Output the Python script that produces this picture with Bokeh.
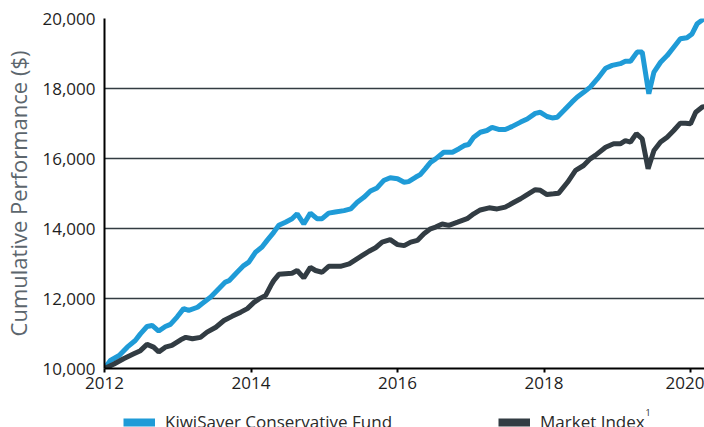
from bokeh.plotting import figure
from bokeh.layouts import column
from bokeh.models import (Range1d, FixedTicker, NumeralTickFormatter, Legend, LegendItem, Label)
from bokeh.embed import file_html
from bokeh.resources import INLINE

# ---- data ----
fund_years = [2012.00, 2012.08, 2012.20, 2012.31, 2012.42, 2012.49, 2012.58, 2012.65, 2012.74, 2012.83,
              2012.90, 2012.99, 2013.08, 2013.15, 2013.27, 2013.33, 2013.45, 2013.56, 2013.65, 2013.70,
              2013.81, 2013.90, 2013.97, 2014.06, 2014.15, 2014.22, 2014.31, 2014.38, 2014.47, 2014.56,
              2014.63, 2014.72, 2014.81, 2014.90, 2014.97, 2015.06, 2015.15, 2015.27, 2015.36, 2015.45,
              2015.54, 2015.63, 2015.72, 2015.81, 2015.90, 2016.00, 2016.09, 2016.15, 2016.25, 2016.31,
              2016.38, 2016.45, 2016.52, 2016.63, 2016.75, 2016.84, 2016.91, 2016.97, 2017.04, 2017.13,
              2017.22, 2017.29, 2017.38, 2017.47, 2017.56, 2017.68, 2017.77, 2017.88, 2017.95, 2018.04,
              2018.11, 2018.18, 2018.27, 2018.38, 2018.45, 2018.54, 2018.63, 2018.73, 2018.84, 2018.93,
              2019.04, 2019.11, 2019.18, 2019.27, 2019.34, 2019.43, 2019.50, 2019.59, 2019.68, 2019.77,
              2019.86, 2019.95, 2020.02, 2020.09, 2020.18, 2020.25]
fund_values = [10000, 10230, 10370, 10610, 10800, 10990, 11200, 11230, 11070, 11200,
               11260, 11470, 11710, 11660, 11750, 11850, 12040, 12280, 12470, 12510,
               12750, 12940, 13040, 13320, 13470, 13660, 13890, 14090, 14180, 14280,
               14420, 14130, 14440, 14280, 14280, 14440, 14470, 14510, 14560, 14750,
               14890, 15070, 15160, 15370, 15450, 15420, 15320, 15340, 15470, 15540,
               15710, 15890, 15990, 16180, 16180, 16280, 16370, 16400, 16610, 16750,
               16800, 16890, 16830, 16830, 16910, 17040, 17130, 17290, 17320, 17200,
               17160, 17180, 17370, 17610, 17750, 17890, 18040, 18280, 18580, 18660,
               18710, 18780, 18780, 19040, 19040, 17850, 18470, 18750, 18940, 19180,
               19420, 19450, 19560, 19850, 19990, 20150]

index_years = [2012.00, 2012.13, 2012.26, 2012.40, 2012.49, 2012.58, 2012.67, 2012.74, 2012.83, 2012.92,
               2013.04, 2013.11, 2013.20, 2013.31, 2013.40, 2013.52, 2013.63, 2013.74, 2013.86, 2013.95,
               2014.04, 2014.11, 2014.20, 2014.27, 2014.31, 2014.38, 2014.47, 2014.56, 2014.63, 2014.72,
               2014.81, 2014.88, 2014.97, 2015.06, 2015.22, 2015.34, 2015.43, 2015.52, 2015.61, 2015.70,
               2015.79, 2015.90, 2016.00, 2016.09, 2016.18, 2016.27, 2016.36, 2016.45, 2016.52, 2016.61,
               2016.70, 2016.82, 2016.95, 2017.04, 2017.13, 2017.25, 2017.36, 2017.47, 2017.59, 2017.68,
               2017.77, 2017.88, 2017.95, 2018.04, 2018.13, 2018.20, 2018.32, 2018.43, 2018.54, 2018.63,
               2018.70, 2018.84, 2018.95, 2019.04, 2019.11, 2019.18, 2019.26, 2019.34, 2019.42, 2019.50,
               2019.59, 2019.68, 2019.77, 2019.86, 2019.93, 2020.00, 2020.07, 2020.16, 2020.25]
index_values = [10000, 10130, 10280, 10420, 10510, 10690, 10610, 10470, 10610, 10660,
                10820, 10890, 10850, 10890, 11040, 11180, 11370, 11490, 11610, 11710,
                11890, 11990, 12090, 12370, 12510, 12690, 12710, 12720, 12800, 12590,
                12890, 12800, 12750, 12920, 12920, 12990, 13110, 13230, 13350, 13450,
                13610, 13680, 13540, 13510, 13610, 13660, 13850, 13990, 14040, 14130,
                14090, 14180, 14280, 14420, 14530, 14590, 14560, 14610, 14750, 14850,
                14970, 15110, 15090, 14970, 14990, 15010, 15320, 15660, 15800, 15990,
                16090, 16320, 16420, 16420, 16510, 16470, 16710, 16560, 15710, 16230,
                16470, 16610, 16800, 17010, 17010, 16990, 17320, 17470, 17500]

x_ticks = [2012, 2014, 2016, 2018, 2020]
y_ticks = [10000, 12000, 14000, 16000, 18000, 20000]
series_names = ["KiwiSaver Conservative Fund", "Market Index"]
series_colors = ["#1f9bd7", "#323c43"]
footnote = "1"

FONT = "Open Sans"

# ---------------- main chart ----------------
p = figure(width=704, height=400, output_backend="svg", toolbar_location=None,
           x_range=Range1d(2012, 2020.19), y_range=Range1d(10000, 20000),
           min_border_left=104, min_border_right=0, min_border_top=18, min_border_bottom=32)
p.outline_line_color = None
p.background_fill_color = "white"
p.border_fill_color = "white"

r_fund = p.line(fund_years, fund_values, line_width=5, line_color=series_colors[0])
r_index = p.line(index_years, index_values, line_width=5, line_color=series_colors[1])

p.xaxis.ticker = FixedTicker(ticks=x_ticks)
p.yaxis.ticker = FixedTicker(ticks=y_ticks)
p.yaxis.formatter = NumeralTickFormatter(format="0,0")
for ax in (p.xaxis[0], p.yaxis[0]):
    ax.axis_line_color = "black"
    ax.axis_line_width = 2
    ax.major_label_text_font = FONT
    ax.major_label_text_font_size = "17px"
    ax.major_label_text_color = "#1e1e1e"
    ax.minor_tick_line_color = None
p.xaxis.major_tick_out = 4
p.xaxis.major_tick_in = 0
p.xaxis.major_tick_line_width = 2
p.xaxis.major_tick_line_color = "black"
p.xaxis.major_label_standoff = 4
p.yaxis.major_tick_out = 0
p.yaxis.major_tick_in = 0
p.yaxis.major_tick_line_color = None
p.yaxis.major_label_standoff = 9
p.yaxis.axis_label = "Cumulative Performance ($)"
p.yaxis.axis_label_text_font = FONT
p.yaxis.axis_label_text_font_size = "22px"
p.yaxis.axis_label_text_font_style = "normal"
p.yaxis.axis_label_text_color = "#5c666d"
p.yaxis.axis_label_standoff = 6

p.xgrid.grid_line_color = None
p.ygrid.grid_line_color = "#333c42"
p.ygrid.grid_line_width = 1.6

# ---------------- legend strip (its frame is aligned with the chart's frame) ----------------
lg = figure(width=704, height=40, output_backend="svg", toolbar_location=None,
            x_range=Range1d(0, 1), y_range=Range1d(0, 1),
            min_border_left=0, min_border_right=0, min_border_top=0, min_border_bottom=0)
lg.axis.visible = False
lg.grid.visible = False
lg.outline_line_color = None
lg.background_fill_color = "white"
lg.border_fill_color = "white"

# swatch renderers: series data lies outside this strip's ranges, so only the legend glyph shows
sw_fund = lg.line(fund_years[:2], fund_values[:2], line_width=8, line_color=series_colors[0])
sw_index = lg.line(index_years[:2], index_values[:2], line_width=8, line_color=series_colors[1])

legend = Legend(items=[LegendItem(label=series_names[0], renderers=[sw_fund]),
                       LegendItem(label=series_names[1], renderers=[sw_index])],
                orientation="horizontal", location=(19, 7),
                glyph_width=32, glyph_height=18, label_standoff=10, spacing=106,
                padding=0, margin=0,
                border_line_color=None, background_fill_alpha=0,
                label_text_font=FONT, label_text_font_size="17px", label_text_color="#2a2a2a")
lg.add_layout(legend, "center")

lg.add_layout(Label(x=541, y=25, x_units="screen", y_units="screen", text=footnote,
                    text_font=FONT, text_font_size="9px", text_color="#2a2a2a"))

open("out.html", "w").write(file_html(column(p, lg, spacing=0), INLINE))
